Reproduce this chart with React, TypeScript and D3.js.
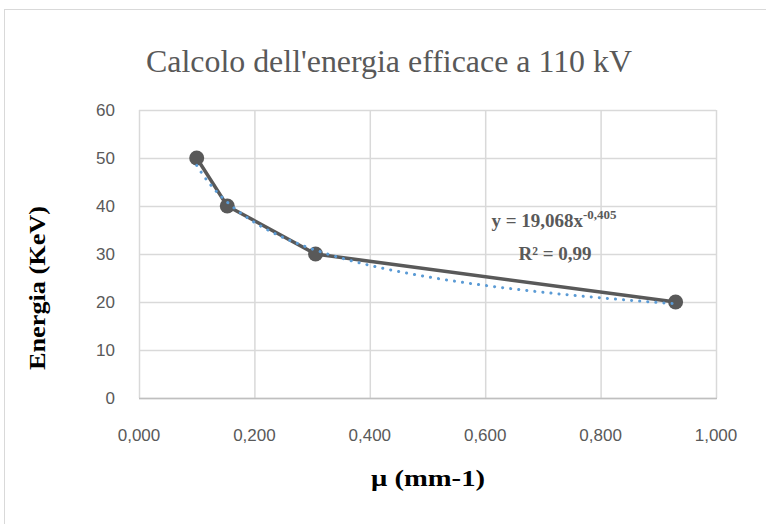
import { useRef, useEffect } from 'react';
import * as d3 from 'd3';

// measured points (mu, energy)
const muValues = [0.1, 0.153, 0.306, 0.93];
const energyValues = [50, 40, 30, 20];
const xTicks = [0, 0.2, 0.4, 0.6, 0.8, 1.0];
const yTicks = [0, 10, 20, 30, 40, 50, 60];
// power trendline from the chart label: y = a * x^b
const fitA = 19.068;
const fitB = -0.405;
const fitR2 = '0,99';

const W = 766;
const H = 524;

export default function App() {
  const svgRef = useRef<SVGSVGElement>(null);

  useEffect(() => {
    const svg = d3.select(svgRef.current);
    svg.selectAll('*').remove();

    const left = 139, right = 716, top = 110, bottom = 398;
    const x = d3.scaleLinear().domain([0, 1]).range([left, right]);
    const y = d3.scaleLinear().domain([0, 60]).range([bottom, top]);
    const fmt = (v: number) => v.toFixed(3).replace('.', ',');
    const serif = 'Liberation Serif, serif';
    const sans = 'Liberation Sans, sans-serif';

    // chart border
    svg.append('rect')
      .attr('x', 4.5).attr('y', 9.5)
      .attr('width', W + 20).attr('height', H + 20)
      .attr('fill', 'white').attr('stroke', '#d9d9d9');

    // gridlines
    svg.append('g').selectAll('line').data(yTicks).enter().append('line')
      .attr('x1', left).attr('x2', right)
      .attr('y1', d => y(d) + 0.5).attr('y2', d => y(d) + 0.5)
      .attr('stroke', '#d9d9d9').attr('stroke-width', 1.5);
    svg.append('g').selectAll('line').data(xTicks).enter().append('line')
      .attr('y1', top).attr('y2', bottom)
      .attr('x1', d => x(d) + 0.5).attr('x2', d => x(d) + 0.5)
      .attr('stroke', '#d9d9d9').attr('stroke-width', 1.5);
    // bottom axis line
    svg.append('line')
      .attr('x1', left).attr('x2', right + 1)
      .attr('y1', bottom + 0.5).attr('y2', bottom + 0.5)
      .attr('stroke', '#bfbfbf').attr('stroke-width', 1.5);

    // tick labels
    svg.append('g').selectAll('text').data(yTicks).enter().append('text')
      .attr('x', left - 24).attr('y', d => y(d) + 6)
      .attr('text-anchor', 'end')
      .attr('font-family', sans).attr('font-size', 17)
      .attr('fill', '#595959').text(d => d);
    svg.append('g').selectAll('text').data(xTicks).enter().append('text')
      .attr('x', d => x(d)).attr('y', bottom + 43)
      .attr('text-anchor', 'middle')
      .attr('font-family', sans).attr('font-size', 17)
      .attr('fill', '#595959').text(d => fmt(d));

    // title and axis titles
    svg.append('text')
      .attr('x', 389).attr('y', 72).attr('text-anchor', 'middle')
      .attr('font-family', serif).attr('font-size', 31)
      .attr('textLength', 486).attr('lengthAdjust', 'spacingAndGlyphs')
      .attr('fill', '#595959').text("Calcolo dell'energia efficace a 110 kV");
    svg.append('text')
      .attr('transform', 'translate(45,288) rotate(-90)').attr('text-anchor', 'middle')
      .attr('font-family', serif).attr('font-size', 24)
      .attr('textLength', 164).attr('lengthAdjust', 'spacingAndGlyphs')
      .attr('font-weight', 'bold').attr('fill', '#000').text('Energia (KeV)');
    svg.append('text')
      .attr('x', 428).attr('y', 486).attr('text-anchor', 'middle')
      .attr('font-family', serif).attr('font-size', 24)
      .attr('textLength', 114).attr('lengthAdjust', 'spacingAndGlyphs')
      .attr('font-weight', 'bold').attr('fill', '#000').text('μ (mm-1)');

    // data line and markers
    const pts = muValues.map((m, i) => [x(m), y(energyValues[i])] as [number, number]);
    svg.append('path')
      .attr('d', d3.line()(pts))
      .attr('fill', 'none').attr('stroke', '#595959').attr('stroke-width', 3.5);
    svg.append('g').selectAll('circle').data(pts).enter().append('circle')
      .attr('cx', d => d[0]).attr('cy', d => d[1]).attr('r', 7.5)
      .attr('fill', '#595959');

    // power trendline
    const xMin = d3.min(muValues)!, xMax = d3.max(muValues)!;
    const trend = d3.range(0, 101).map(i => {
      const m = xMin + (xMax - xMin) * i / 100;
      return [x(m), y(fitA * Math.pow(m, fitB))] as [number, number];
    });
    svg.append('path')
      .attr('d', d3.line().curve(d3.curveBasis)(trend))
      .attr('fill', 'none').attr('stroke', '#5b9bd5').attr('stroke-width', 3)
      .attr('stroke-linecap', 'round').attr('stroke-dasharray', '0.1 8');

    // equation label
    const eq = svg.append('text')
      .attr('x', 554).attr('y', 227).attr('text-anchor', 'middle')
      .attr('font-family', serif).attr('font-size', 19)
      .attr('font-weight', 'bold').attr('fill', '#595959');
    eq.append('tspan').text('y = ' + fitA.toFixed(3).replace('.', ',') + 'x');
    eq.append('tspan').attr('dy', -8).attr('font-size', 13)
      .text(fitB.toFixed(3).replace('.', ','));
    svg.append('text')
      .attr('x', 555).attr('y', 260).attr('text-anchor', 'middle')
      .attr('font-family', serif).attr('font-size', 19)
      .attr('font-weight', 'bold').attr('fill', '#595959').text('R² = ' + fitR2);
  }, []);

  return (
    <svg ref={svgRef} width={W} height={H}
      style={{ position: 'absolute', left: 0, top: 0, background: 'white' }} />
  );
}
